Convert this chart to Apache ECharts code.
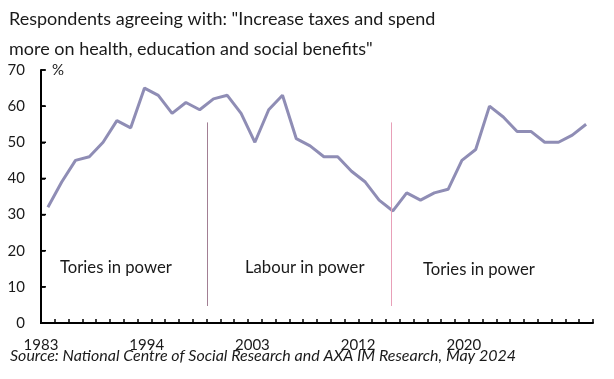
<!DOCTYPE html>
<html><head><meta charset="utf-8">
<script src="https://cdn.jsdelivr.net/npm/echarts@6/dist/echarts.min.js"></script>
<style>html,body{margin:0;padding:0;background:#fff}#c{width:614px;height:379px}</style>
</head><body><div id="c"></div>
<script>
const years = ['1983','1984','1985','1986','1987','1989','1990','1991','1993','1994','1995','1996','1997','1998','1999','2000','2001','2002','2003','2004','2005','2006','2007','2008','2009','2010','2011','2012','2013','2014','2015','2016','2017','2018','2019','2020','2021','2022','2023','2024'];
const agreePct = [32,39,45,46,50,56,54,65,63,58,61,59,62,63,58,50,59,63,51,49,46,46,42,39,34,31,36,34,36,37,45,48,60,57,53,53,50,50,52,55];
const tickLabels = ['1983','1994','2003','2012','2020'];
const tickStep = 7.66;              // label spacing, in category widths
const govChanges = [12.05, 25.4];   // changes of government, in category widths
const govLineRange = [4.7, 55.5];   // % range covered by the divider lines
const periodLabels = ['Tories in power','Labour in power','Tories in power'];
const titleText = 'Respondents agreeing with: "Increase taxes and spend\nmore on health, education and social benefits"';
const sourceText = 'Source: National Centre of Social Research and AXA IM Research, May 2024';
const yMin = 0, yMax = 70, yStep = 10;

const FONT = 'Lato, "Open Sans", sans-serif';
const GRID = {left: 41, right: 21, top: 70, bottom: 56};
const W = 614, H = 379;
const chart = echarts.init(document.getElementById('c'), null, {renderer:'canvas', width: W, height: H});
const divColors = ['#a27f94', '#e8a0b8'];
const labelValues = tickLabels.map(function (_, i) { return +(i * tickStep).toFixed(2); });

const divMarks = govChanges.map(function (x, i) {
  return [
    {coord: [x, govLineRange[0]], lineStyle: {color: divColors[i], width: 1, type: 'solid'}},
    {coord: [x, govLineRange[1]], lineStyle: {color: divColors[i], width: 1, type: 'solid'}}
  ];
});

// y axis line and inside ticks as plain graphics at the grid edge
const plotH = H - GRID.top - GRID.bottom;
const yAxisGraphics = [{
  type: 'line', z: 100, silent: true,
  shape: {x1: GRID.left, y1: H - GRID.bottom + 1, x2: GRID.left, y2: GRID.top},
  style: {stroke: '#000000', lineWidth: 2}
}];
for (let v = yMin + yStep; v <= yMax; v += yStep) {
  const py = GRID.top + plotH * (1 - (v - yMin) / (yMax - yMin));
  yAxisGraphics.push({type: 'line', z: 100, silent: true, shape: {x1: GRID.left, y1: py, x2: GRID.left + 5, y2: py}, style: {stroke: '#000000', lineWidth: 1.5}});
}

chart.setOption({
  animation: false,
  backgroundColor: '#fff',
  title: {
    text: titleText, left: 4, top: -1,
    textStyle: {fontFamily: FONT, fontSize: 18, fontWeight: 'normal', color: '#1a1a1a', lineHeight: 30}
  },
  grid: {left: GRID.left, right: GRID.right, top: GRID.top, bottom: GRID.bottom, containLabel: false},
  xAxis: [{
    type: 'category', data: years, boundaryGap: true,
    axisLine: {show: true, onZero: false, lineStyle: {color: '#000', width: 2}},
    axisTick: {show: true, inside: true, length: 4, lineStyle: {color: '#000', width: 1.5}, interval: 0},
    axisLabel: {show: false}, splitLine: {show: false}
  }, {
    type: 'value', min: 0, max: years.length, position: 'bottom',
    axisLine: {show: false, onZero: false}, axisTick: {show: false}, splitLine: {show: false},
    axisLabel: {
      customValues: labelValues,
      fontFamily: FONT, fontSize: 15, color: '#1a1a1a', margin: 15,
      alignMinLabel: 'center', alignMaxLabel: 'center', hideOverlap: false,
      formatter: function (v) {
        const i = Math.round(v / tickStep);
        return tickLabels[i] || '';
      }
    }
  }],
  yAxis: [{
    type: 'value', min: yMin, max: yMax, interval: yStep, position: 'left',
    axisLine: {show: true, onZero: false, lineStyle: {color: '#000', width: 2}},
    axisTick: {show: true, inside: true, length: 4, lineStyle: {color: '#000', width: 1.5}},
    axisLabel: {fontFamily: FONT, fontSize: 15, color: '#1a1a1a', margin: 16},
    splitLine: {show: false}
  }],
  graphic: [
    {type: 'text', left: 52, top: 63, style: {text: '%', fontFamily: FONT, fontSize: 15, fill: '#1a1a1a'}},
    {type: 'text', left: 60, top: 259, style: {text: periodLabels[0], fontFamily: FONT, fontSize: 16.7, fill: '#1a1a1a'}},
    {type: 'text', left: 245, top: 259, style: {text: periodLabels[1], fontFamily: FONT, fontSize: 16.7, fill: '#1a1a1a'}},
    {type: 'text', left: 423, top: 261, style: {text: periodLabels[2], fontFamily: FONT, fontSize: 16.7, fill: '#1a1a1a'}},
    {type: 'text', left: 10, top: 348, style: {text: sourceText, fontFamily: FONT, fontSize: 16, fontStyle: 'italic', fill: '#1a1a1a'}}
  ].concat(yAxisGraphics),
  series: [{
    type: 'line', data: agreePct, xAxisIndex: 0, yAxisIndex: 0, symbol: 'none',
    lineStyle: {color: '#8f8db5', width: 3}, z: 3
  }, {
    type: 'scatter', xAxisIndex: 1, yAxisIndex: 0, data: [], silent: true,
    markLine: {silent: true, symbol: 'none', label: {show: false}, data: divMarks}
  }]
});
</script></body></html>
